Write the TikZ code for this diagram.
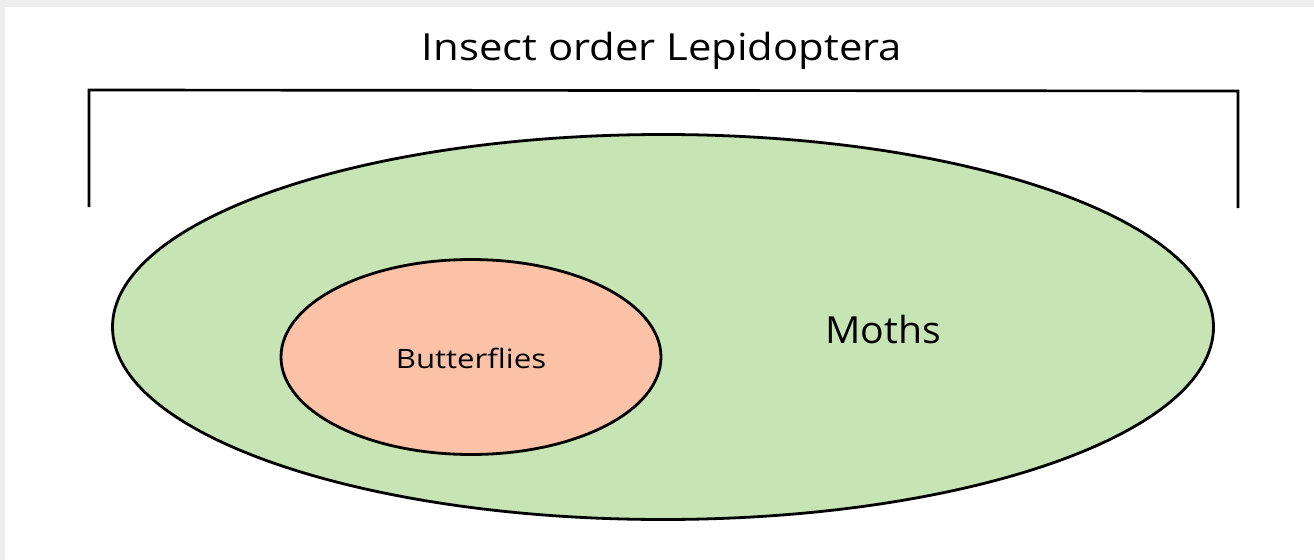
\documentclass[tikz,border=0pt]{standalone}
\usepackage{fontspec}
\setmainfont{Open Sans}
\newfontfamily\titlefont[FakeStretch=1.12]{Open Sans}
\newfontfamily\bflyfont[FakeStretch=1.17]{Open Sans}
\newfontfamily\mothfont[FakeStretch=1.05]{Open Sans}
\usetikzlibrary{shapes.geometric}
\definecolor{mothgreen}{RGB}{199,228,180}
\definecolor{butterpink}{RGB}{251,194,168}
\definecolor{edgegray}{RGB}{238,238,238}
\tikzset{
  px/.style={x=0.75pt,y=-0.75pt},
  blob/.style={ellipse,draw=black,line width=2.1pt,inner sep=0pt},
  lbl/.style={text=black,inner sep=0pt},
}
\begin{document}
\begin{tikzpicture}[px]
\useasboundingbox (0,0) rectangle (1314,560);
\fill[white] (0,0) rectangle (1314,560);
\fill[edgegray] (0,0) rectangle (1314,7);
\fill[edgegray] (0,0) rectangle (5,560);
% bracket
\coordinate (bl) at (89,207);
\coordinate (tl) at (89,90);
\coordinate (tr) at (1238,91);
\coordinate (br) at (1238,208);
\draw[line width=2pt,line join=miter] (bl) -- (tl) -- (tr) -- (br);
\node[lbl,font=\titlefont\fontsize{28}{32}\selectfont] (title) at (662,51) {Insect order Lepidoptera};
% ellipses
\node[blob,fill=mothgreen,minimum width=1101*0.75pt,minimum height=385*0.75pt] (moths) at (663,327) {};
\node[blob,fill=butterpink,minimum width=380*0.75pt,minimum height=195*0.75pt] (butter) at (471,357) {};
\node[lbl,font=\bflyfont\fontsize{20}{24}\selectfont] (blabel) at (471,358) {Butterflies};
\node[lbl,font=\mothfont\fontsize{28}{32}\selectfont] (mlabel) at (883,329) {Moths};
\end{tikzpicture}
\end{document}
